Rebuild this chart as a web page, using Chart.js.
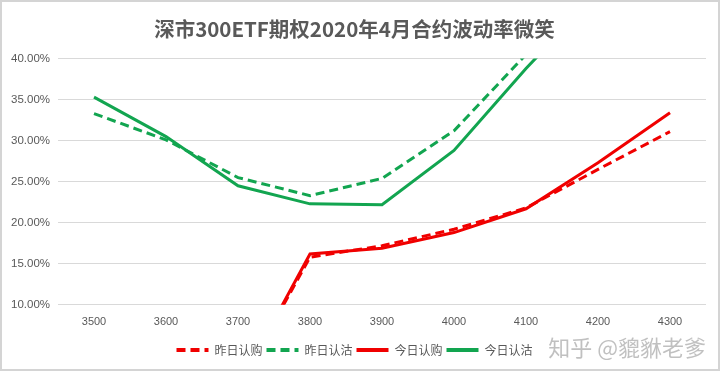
<!DOCTYPE html>
<html>
<head>
<meta charset="utf-8">
<script src="https://cdn.jsdelivr.net/npm/chart.js@4/dist/chart.umd.min.js"></script>
<style>
  html, body { margin: 0; padding: 0; background: #fff; }
  #wrap { width: 720px; height: 371px; }
</style>
</head>
<body>
<div id="wrap"><canvas id="chart" width="720" height="371"></canvas></div>
<script>
// ---- data (values in %) ----
const strikes = ["3500", "3600", "3700", "3800", "3900", "4000", "4100", "4200", "4300"];
const callYesterday = [0, 0, 0, 15.8, 17.2, 19.2, 21.8, 26.5, 31.1];
const putYesterday  = [33.3, 30.1, 25.5, 23.3, 25.4, 31.2, 40.5, 49, 57];
const callToday     = [0, 0, 0, 16.2, 16.9, 18.8, 21.7, 27.3, 33.4];
const putToday      = [35.3, 30.5, 24.5, 22.3, 22.2, 28.8, 38.8, 48, 56];
const yTicks = [10, 15, 20, 25, 30, 35, 40];

const RED = "#f00000";
const GREEN = "#12a550";
const GREY = "#595959";

// frame + watermark
const extras = {
  id: "extras",
  afterDraw(chart){
    const ctx = chart.ctx;
    ctx.save();
    ctx.strokeStyle = "#d4d4d4";
    ctx.lineWidth = 2;
    ctx.strokeRect(1, 1, 718, 369);
    ctx.font = "22px 'Noto Sans CJK SC'";
    ctx.fillStyle = "rgba(140,140,140,0.55)";
    ctx.textBaseline = "middle";
    ctx.textAlign = "right";
    ctx.fillText("知乎 @貔貅老爹", 706, 348);
    ctx.restore();
  }
};

function ds(label, data, color, dashed){
  return {
    label, data,
    borderColor: color,
    backgroundColor: color,
    borderWidth: 3,
    borderDash: dashed ? [9, 5] : [],
    pointRadius: 0,
    tension: 0,
    clip: 0
  };
}

new Chart(document.getElementById("chart"), {
  type: "line",
  data: {
    labels: strikes,
    datasets: [
      ds("昨日认购", callYesterday, RED, true),
      ds("昨日认沽", putYesterday, GREEN, true),
      ds("今日认购", callToday, RED, false),
      ds("今日认沽", putToday, GREEN, false)
    ]
  },
  options: {
    responsive: false,
    animation: false,
    layout: { padding: { left: 3, right: 14, top: 6, bottom: 5 } },
    plugins: {
      title: {
        display: true,
        text: "深市300ETF期权2020年4月合约波动率微笑",
        color: GREY,
        font: { family: "'Noto Sans CJK SC'", size: 20.5, weight: "bold" },
        padding: { top: 11, bottom: 17 }
      },
      legend: {
        position: "bottom",
        labels: {
          color: GREY,
          font: { family: "'Noto Sans CJK SC'", size: 12 },
          usePointStyle: true,
          pointStyle: "line",
          pointStyleWidth: 32,
          boxHeight: 12,
          padding: 4,
          generateLabels(chart){
            return chart.data.datasets.map((d, i) => ({
              text: d.label,
              fillStyle: d.borderColor,
              strokeStyle: d.borderColor,
              lineWidth: 4,
              lineDash: d.borderDash,
              pointStyle: "line",
              datasetIndex: i,
              fontColor: GREY
            }));
          }
        }
      },
      tooltip: { enabled: false }
    },
    scales: {
      x: {
        offset: true,
        grid: { display: false },
        border: { display: false },
        afterFit(axis){ axis.height += 8; },
        ticks: { color: GREY, font: { family: "'Liberation Sans'", size: 11 }, padding: 3 }
      },
      y: {
        min: 10,
        max: 40,
        afterBuildTicks(axis){ axis.ticks = yTicks.map(v => ({ value: v })); },
        grid: { color: "#d9d9d9", lineWidth: 1, drawTicks: false },
        border: { display: false },
        ticks: {
          color: GREY,
          font: { family: "'Liberation Sans'", size: 11.5 },
          padding: 8,
          callback: v => v.toFixed(2) + "%"
        }
      }
    }
  },
  plugins: [extras]
});
</script>
</body>
</html>
